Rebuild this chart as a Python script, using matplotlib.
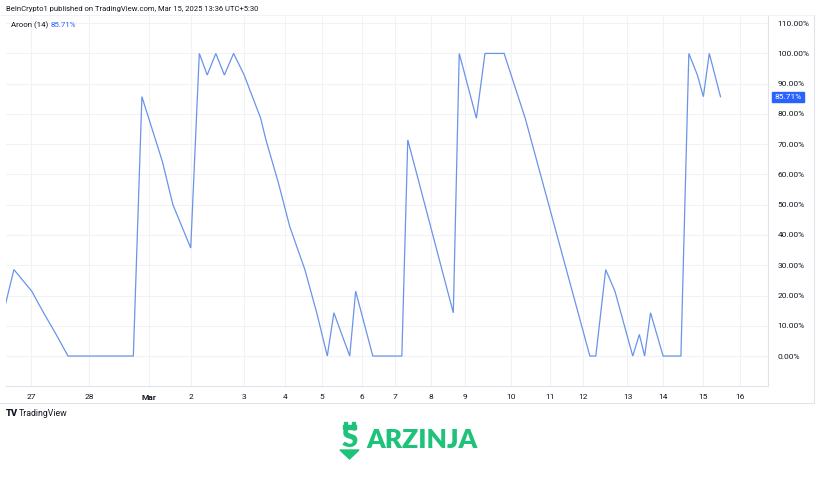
import matplotlib
matplotlib.use("Agg")
import matplotlib.pyplot as plt
from matplotlib.patches import Rectangle, Polygon
from matplotlib.lines import Line2D

# ---- data (bar index, Aroon % ) ----
bar_pos = [-1.2, 1.2, 3.9, 5.7, 7.6, 9.4, 19.3, 20.6, 23.7, 25.3, 28.0, 29.3, 30.5,
           31.8, 33.1, 34.5, 36.1, 38.6, 39.4, 41.3, 43.0, 45.3, 47.1, 48.7, 49.7,
           52.1, 53.0, 55.6, 60.0, 60.9, 67.8, 68.7, 71.3, 72.6, 75.5, 78.7, 88.5,
           89.4, 90.9, 92.3, 95.0, 96.0, 96.8, 97.7, 99.6, 102.3, 103.5, 104.8,
           105.7, 106.6, 108.3]
aroon = [7.14, 28.57, 21.43, 14.29, 7.14, 0, 0, 85.71, 64.29, 50.0, 35.71, 100,
         92.86, 100, 92.86, 100, 92.86, 78.57, 71.43, 57.14, 42.86, 28.57, 14.29,
         0, 14.29, 0, 21.43, 0, 0, 71.43, 14.29, 100, 78.57, 100, 100, 78.57, 0,
         0, 28.57, 21.43, 0, 7.14, 0, 14.29, 0, 0, 100, 92.86, 85.71, 100, 85.71]

tick_pos = [3.8, 12.6, 21.7, 28.1, 36.1, 42.3, 47.9, 54.0, 59.0, 64.4, 69.6,
            76.5, 82.4, 87.5, 94.2, 99.6, 105.7, 111.3]
tick_labels = ["27", "28", "Mar", "2", "3", "4", "5", "6", "7", "8", "9",
               "10", "11", "12", "13", "14", "15", "16"]
y_ticks = [0, 10, 20, 30, 40, 50, 60, 70, 80, 90, 100, 110]
last_value = 85.71

plt.rcParams["font.family"] = ["Roboto", "DejaVu Sans"]
FS = 6.0
TXT = "#131722"

W, H = 816, 487
fig = plt.figure(figsize=(W / 100, H / 100), dpi=100)
fig.patch.set_facecolor("white")

def fx(px):
    return px / W

def fy(py):
    return 1 - py / H

ax_left, ax_right, ax_top, ax_bot = 6, 768, 15, 386
ax = fig.add_axes([fx(ax_left), fy(ax_bot), fx(ax_right - ax_left), (ax_bot - ax_top) / H])
ax.set_facecolor("white")

line_color = "#6b93e8"
ax.plot(bar_pos, aroon, color=line_color, lw=0.9, solid_joinstyle="miter", clip_on=True)

ax.set_xlim(0, 115.5)
ax.set_ylim(-9.9, 112.7)

grid_c = "#f0f2f6"
for t in tick_pos:
    ax.axvline(t, color=grid_c, lw=0.8, zorder=0)
for v in y_ticks:
    ax.axhline(v, color=grid_c, lw=0.8, zorder=0)

for s in ["top", "left"]:
    ax.spines[s].set_visible(False)
ax.spines["right"].set_color("#e0e3eb")
ax.spines["bottom"].set_color("#e0e3eb")
ax.spines["right"].set_linewidth(0.8)
ax.spines["bottom"].set_linewidth(0.8)

ax.yaxis.tick_right()
ax.set_yticks(y_ticks)
ax.set_yticklabels([f"{v:.2f}%" for v in y_ticks])
ax.tick_params(axis="y", length=0, pad=7, labelsize=FS, labelcolor=TXT)
ax.set_xticks(tick_pos)
ax.set_xticklabels(tick_labels)
ax.tick_params(axis="x", length=0, pad=6, labelsize=FS, labelcolor=TXT)
for lbl in ax.get_xticklabels():
    if lbl.get_text() == "Mar":
        lbl.set_fontweight("bold")

# current value tag on the price axis
ax.annotate(f"{last_value:.2f}%", xy=(1, last_value), xycoords=("axes fraction", "data"),
            xytext=(4.5, 0), textcoords="offset points", ha="left", va="center",
            fontsize=FS, color="white",
            bbox=dict(boxstyle="square,pad=0.25", fc="#2962ff", ec="#2962ff"))

# outer frame lines (time axis bottom, right edge)
fig.add_artist(Line2D([fx(0), fx(814)], [fy(403), fy(403)], color="#e0e3eb", lw=0.8))
fig.add_artist(Line2D([fx(814), fx(814)], [fy(15), fy(403)], color="#e0e3eb", lw=0.8))
fig.add_artist(Line2D([fx(0), fx(814)], [fy(15), fy(15)], color="#eef0f4", lw=0.6))

# header texts
fig.text(fx(6), fy(9), "BeInCrypto1 published on TradingView.com, Mar 15, 2025 13:36 UTC+5:30",
         fontsize=5.5, color=TXT, va="center", ha="left")
fig.text(fx(11), fy(25), "Aroon (14)", fontsize=5.7, color=TXT, va="center", ha="left")
fig.text(fx(51), fy(25), f"{last_value:.2f}%", fontsize=5.7, color="#2962ff", va="center", ha="left")

# TradingView footer
fig.text(fx(6), fy(414), "TV", fontsize=6.8, fontweight="heavy", color=TXT,
         va="center", ha="left")
fig.text(fx(19), fy(414), "TradingView", fontsize=FS + 0.3, color=TXT, va="center", ha="left")

# ARZINJA logo
green = "#1fc27a"
fig.text(fx(366), fy(440), "ARZINJA", fontsize=19, fontweight="heavy", color=green,
         family=["Lato", "DejaVu Sans"], va="center", ha="left")
fig.text(fx(349.5), fy(439), "S", fontsize=21, fontweight="heavy", color=green,
         family=["Lato", "DejaVu Sans"], va="center", ha="center")
fig.add_artist(Rectangle((fx(343), fy(429)), fx(13), 4 / H, color=green))
fig.add_artist(Rectangle((fx(344), fy(429)), fx(3), 7 / H, color=green))
fig.add_artist(Rectangle((fx(352), fy(429)), fx(3), 7 / H, color=green))
fig.add_artist(Polygon([[fx(340), fy(450)], [fx(359), fy(450)], [fx(349.5), fy(459)]],
                       closed=True, color=green))

fig.savefig("out.png", dpi=100, facecolor="white")
